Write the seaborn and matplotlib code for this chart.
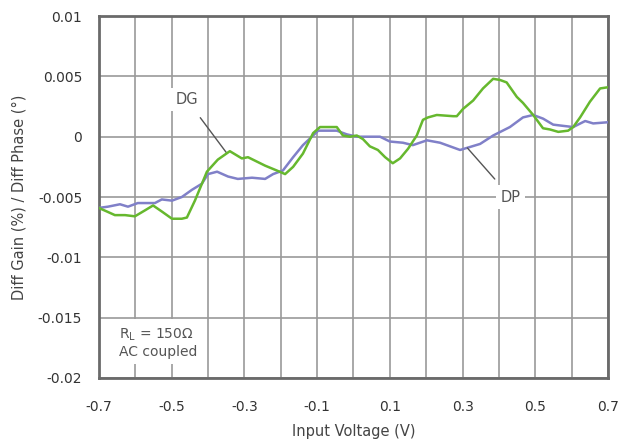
import numpy as np
import pandas as pd
import matplotlib
matplotlib.use("Agg")
import matplotlib.pyplot as plt
import seaborn as sns

#----- data -----
dg_x = [-0.700, -0.693, -0.678, -0.656, -0.628, -0.601, -0.573, -0.551, -0.527, -0.499,
        -0.472, -0.458, -0.436, -0.403, -0.373, -0.340, -0.307, -0.290, -0.243, -0.211,
        -0.188, -0.166, -0.139, -0.111, -0.092, -0.046, -0.029, -0.010, 0.009, 0.026,
        0.045, 0.067, 0.087, 0.108, 0.128, 0.150, 0.174, 0.191, 0.205, 0.229,
        0.274, 0.284, 0.301, 0.329, 0.356, 0.384, 0.403, 0.421, 0.449, 0.466,
        0.494, 0.521, 0.540, 0.563, 0.590, 0.604, 0.623, 0.650, 0.678, 0.700]
dg_y = [-0.0059, -0.0060, -0.0062, -0.0065, -0.0065, -0.0066, -0.0061, -0.0057, -0.0062, -0.0068,
        -0.0068, -0.0067, -0.0053, -0.0029, -0.0019, -0.0012, -0.0018, -0.0017, -0.0024, -0.0028,
        -0.0031, -0.0025, -0.0014, 0.0003, 0.0008, 0.0008, 0.0001, 0.0000, 0.0001, -0.0002,
        -0.0008, -0.0011, -0.0017, -0.0022, -0.0018, -0.0010, 0.0001, 0.0014, 0.0016, 0.0018,
        0.0017, 0.0017, 0.0023, 0.0030, 0.0040, 0.0048, 0.0047, 0.0045, 0.0033, 0.0028,
        0.0018, 0.0007, 0.0006, 0.0004, 0.0005, 0.0008, 0.0016, 0.0029, 0.0040, 0.0041]

dp_x = [-0.700, -0.675, -0.642, -0.620, -0.593, -0.546, -0.527, -0.499, -0.472, -0.444,
        -0.417, -0.400, -0.375, -0.345, -0.318, -0.279, -0.243, -0.221, -0.194, -0.166,
        -0.139, -0.097, -0.046, -0.019, 0.009, 0.073, 0.100, 0.136, 0.163, 0.202,
        0.238, 0.293, 0.315, 0.348, 0.384, 0.430, 0.466, 0.494, 0.521, 0.549,
        0.576, 0.604, 0.637, 0.659, 0.700]
dp_y = [-0.0059, -0.0058, -0.0056, -0.0058, -0.0055, -0.0055, -0.0052, -0.0053, -0.0050, -0.0044,
        -0.0039, -0.0031, -0.0029, -0.0033, -0.0035, -0.0034, -0.0035, -0.0031, -0.0028, -0.0017,
        -0.0007, 0.0005, 0.0005, 0.0002, 0.0000, 0.0000, -0.0004, -0.0005, -0.0007, -0.0003,
        -0.0005, -0.0011, -0.0009, -0.0006, 0.0001, 0.0008, 0.0016, 0.0018, 0.0015, 0.0010,
        0.0009, 0.0008, 0.0013, 0.0011, 0.0012]

x_ticks = [-0.7, -0.5, -0.3, -0.1, 0.1, 0.3, 0.5, 0.7]
x_tick_labels = ["-0.7", "-0.5", "-0.3", "-0.1", "0.1", "0.3", "0.5", "0.7"]
y_ticks = [-0.02, -0.015, -0.01, -0.005, 0, 0.005, 0.01]
y_tick_labels = ["-0.02", "-0.015", "-0.01", "-0.005", "0", "0.005", "0.01"]

#----- style -----
sns.set_style("white")
plt.rcParams["font.family"] = ["DejaVu Sans"]

fig = plt.figure(figsize=(6.18, 4.46), dpi=100)
ax = fig.add_axes([0.160, 0.1525, 0.824, 0.8115])

dg = pd.DataFrame({"x": dg_x, "y": dg_y})
dp = pd.DataFrame({"x": dp_x, "y": dp_y})
sns.lineplot(data=dp, x="x", y="y", ax=ax, color="#8080c8", lw=1.8, zorder=3)
sns.lineplot(data=dg, x="x", y="y", ax=ax, color="#66b82e", lw=1.8, zorder=4)

ax.set_xlim(-0.7, 0.7)
ax.set_ylim(-0.02, 0.01)
ax.set_xticks(x_ticks)
ax.set_xticklabels(x_tick_labels)
ax.set_xticks(np.arange(-0.7, 0.71, 0.1), minor=True)
ax.set_yticks(y_ticks)
ax.set_yticklabels(y_tick_labels)
ax.grid(True, which="both", color="#9a9a9a", lw=1.2)
ax.set_axisbelow(True)
ax.tick_params(which="both", length=0, labelsize=10, colors="#333333")
ax.tick_params(axis="x", pad=16)
ax.tick_params(axis="y", pad=12)
for s in ax.spines.values():
    s.set_color("#6a6a6a")
    s.set_linewidth(2)

ax.set_xlabel("Input Voltage (V)", fontsize=10.5, color="#444444", labelpad=7)
ax.set_ylabel("Diff Gain (%) / Diff Phase (°)", fontsize=10.5, color="#444444", labelpad=8)

#----- annotations -----
box = dict(facecolor="white", edgecolor="none", pad=3)
ax.annotate("DG", xy=(-0.349, -0.00134), xytext=(-0.459, 0.0031),
            fontsize=10.5, color="#555555", ha="center", va="center", bbox=box,
            arrowprops=dict(arrowstyle="-", color="#555555", lw=1, shrinkA=6, shrinkB=0))
ax.annotate("DP", xy=(0.313, -0.00093), xytext=(0.432, -0.0050),
            fontsize=10.5, color="#555555", ha="center", va="center", bbox=box,
            arrowprops=dict(arrowstyle="-", color="#555555", lw=1, shrinkA=6, shrinkB=0))
ax.text(-0.644, -0.0157, "R$_\\mathregular{L}$ = 150Ω\nAC coupled", fontsize=10,
        color="#555555", ha="left", va="top", linespacing=1.2,
        bbox=dict(facecolor="white", edgecolor="none", pad=4))

fig.savefig("out.png", dpi=100)
